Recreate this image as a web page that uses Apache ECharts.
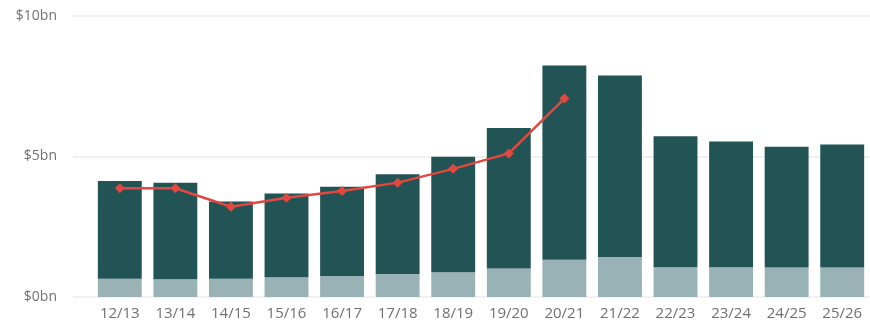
<!DOCTYPE html>
<html>
<head>
<meta charset="utf-8">
<script src="https://cdn.jsdelivr.net/npm/echarts@6/dist/echarts.min.js"></script>
<style>
  html, body { margin: 0; padding: 0; background: #fff; }
  #main { width: 870px; height: 325px; }
</style>
</head>
<body>
<div id="main"></div>
<script>
var years = ['12/13','13/14','14/15','15/16','16/17','17/18','18/19','19/20','20/21','21/22','22/23','23/24','24/25','25/26'];
// lower (light) part of each bar, $bn
var lowerPart = [0.65, 0.63, 0.65, 0.70, 0.75, 0.82, 0.88, 1.01, 1.33, 1.42, 1.06, 1.06, 1.05, 1.05];
// upper (dark) part of each bar, $bn
var upperPart = [3.48, 3.44, 2.75, 2.98, 3.17, 3.55, 4.11, 5.00, 6.91, 6.46, 4.66, 4.47, 4.30, 4.38];
// red line, $bn
var actual = [3.87, 3.87, 3.21, 3.53, 3.77, 4.07, 4.56, 5.11, 7.06, null, null, null, null, null];
var yTicks = [0, 5, 10];

var font = '"Open Sans", "Noto Sans", sans-serif';
var myChart = echarts.init(document.getElementById('main'));
var option = {
    animation: false,
    grid: [
        { left: 73, right: 0, top: 16, bottom: 28 },
        { left: 92, width: 782, top: 16, bottom: 28 }
    ],
    xAxis: [
        { gridIndex: 0, type: 'value', show: false, min: 0, max: 1 },
        {
            gridIndex: 1,
            type: 'category',
            data: years,
            axisLine: { show: false },
            axisTick: { show: false },
            axisLabel: { color: '#707070', fontSize: 15, fontFamily: font, margin: 9 }
        }
    ],
    yAxis: [
        {
            gridIndex: 0,
            type: 'value',
            min: 0, max: 10, interval: 5,
            axisLine: { show: false },
            axisTick: { show: false },
            splitLine: { lineStyle: { color: '#ececec', width: 1.5 } },
            axisLabel: {
                color: '#707070', fontSize: 14, fontFamily: font, margin: 16,
                formatter: function (v) { return yTicks.indexOf(v) >= 0 ? '$' + v + 'bn' : ''; }
            }
        },
        { gridIndex: 1, type: 'value', min: 0, max: 10, show: false }
    ],
    series: [
        {
            type: 'bar', xAxisIndex: 1, yAxisIndex: 1, stack: 'total',
            barCategoryGap: '21%',
            itemStyle: { color: '#98b2b5' },
            data: lowerPart
        },
        {
            type: 'bar', xAxisIndex: 1, yAxisIndex: 1, stack: 'total',
            itemStyle: { color: '#225456' },
            data: upperPart
        },
        {
            type: 'line', xAxisIndex: 1, yAxisIndex: 1,
            symbol: 'diamond', symbolSize: 10,
            lineStyle: { color: '#e2483f', width: 2.5 },
            itemStyle: { color: '#e2483f' },
            data: actual
        }
    ]
};
myChart.setOption(option);
</script>
</body>
</html>
